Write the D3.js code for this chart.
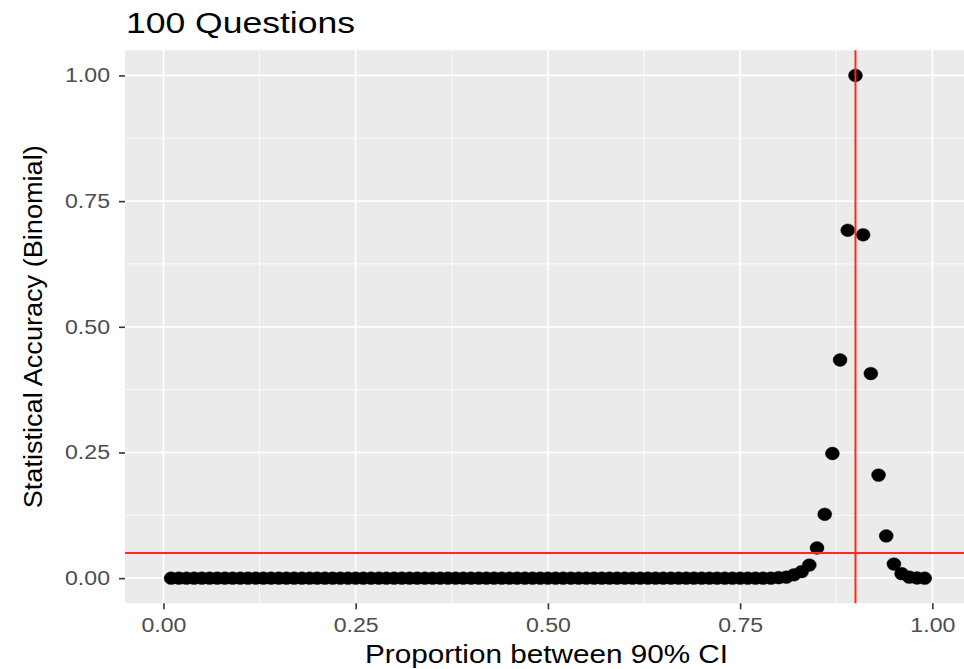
<!DOCTYPE html>
<html>
<head>
<meta charset="utf-8">
<script src="https://cdn.jsdelivr.net/npm/d3@7"></script>
<style>
  html, body { margin: 0; padding: 0; background: #ffffff; }
  svg { display: block; font-family: "Liberation Sans", Arial, Helvetica, sans-serif; }
</style>
</head>
<body>
<svg id="chart" width="964" height="669"></svg>
<script>
// ---- data ----
const proportions = [
  0.01,0.02,0.03,0.04,0.05,0.06,0.07,0.08,0.09,0.10,
  0.11,0.12,0.13,0.14,0.15,0.16,0.17,0.18,0.19,0.20,
  0.21,0.22,0.23,0.24,0.25,0.26,0.27,0.28,0.29,0.30,
  0.31,0.32,0.33,0.34,0.35,0.36,0.37,0.38,0.39,0.40,
  0.41,0.42,0.43,0.44,0.45,0.46,0.47,0.48,0.49,0.50,
  0.51,0.52,0.53,0.54,0.55,0.56,0.57,0.58,0.59,0.60,
  0.61,0.62,0.63,0.64,0.65,0.66,0.67,0.68,0.69,0.70,
  0.71,0.72,0.73,0.74,0.75,0.76,0.77,0.78,0.79,0.80,
  0.81,0.82,0.83,0.84,0.85,0.86,0.87,0.88,0.89,0.90,
  0.91,0.92,0.93,0.94,0.95,0.96,0.97,0.98,0.99
];
const accuracy = [
  0,0,0,0,0,0,0,0,0,0,
  0,0,0,0,0,0,0,0,0,0,
  0,0,0,0,0,0,0,0,0,0,
  0,0,0,0,0,0,0,0,0,0,
  0,0,0,0,0,0,0,0,0,0,
  0,0,0,0,0,0,0,0,0,0,
  0,0,0,0,0,0,0,0,0,0,
  0,0,0,0,0,0,0,0,0,0.001,
  0.002,0.0066,0.013,0.026,0.060,0.127,0.248,0.434,0.692,1.000,
  0.683,0.407,0.205,0.084,0.028,0.009,0.002,0.0003,0
];
const xTicks = [0, 0.25, 0.5, 0.75, 1.0];
const yTicks = [0, 0.25, 0.5, 0.75, 1.0];
const xMinor = [0.125, 0.375, 0.625, 0.875];
const yMinor = [0.125, 0.375, 0.625, 0.875];
const refX = 0.9;
const refY = 0.05;
const titleText = "100 Questions";
const xTitle = "Proportion between 90% CI";
const yTitle = "Statistical Accuracy (Binomial)";

// ---- layout ----
const panel = { left: 125, right: 970.8, top: 50.3, bottom: 603.3 };
const svg = d3.select("#chart");

const x = d3.scaleLinear().domain([-0.05, 1.05]).range([panel.left, panel.right]);
const y = d3.scaleLinear().domain([-0.05, 1.05]).range([panel.bottom, panel.top]);

// panel background
svg.append("rect")
  .attr("x", panel.left).attr("y", panel.top)
  .attr("width", panel.right - panel.left).attr("height", panel.bottom - panel.top)
  .attr("fill", "#EBEBEB");

const grid = svg.append("g");
// minor grid
grid.selectAll(".xminor").data(xMinor).join("line")
  .attr("class", "xminor")
  .attr("x1", d => x(d)).attr("x2", d => x(d))
  .attr("y1", panel.top).attr("y2", panel.bottom)
  .attr("stroke", "#ffffff").attr("stroke-width", 0.8);
grid.selectAll(".yminor").data(yMinor).join("line")
  .attr("class", "yminor")
  .attr("y1", d => y(d)).attr("y2", d => y(d))
  .attr("x1", panel.left).attr("x2", panel.right)
  .attr("stroke", "#ffffff").attr("stroke-width", 0.8);
// major grid
grid.selectAll(".xmajor").data(xTicks).join("line")
  .attr("class", "xmajor")
  .attr("x1", d => x(d)).attr("x2", d => x(d))
  .attr("y1", panel.top).attr("y2", panel.bottom)
  .attr("stroke", "#ffffff").attr("stroke-width", 1.7);
grid.selectAll(".ymajor").data(yTicks).join("line")
  .attr("class", "ymajor")
  .attr("y1", d => y(d)).attr("y2", d => y(d))
  .attr("x1", panel.left).attr("x2", panel.right)
  .attr("stroke", "#ffffff").attr("stroke-width", 1.7);

// points
const data = proportions.map((p, i) => ({ p, a: accuracy[i] }));
svg.append("g").selectAll("ellipse").data(data).join("ellipse")
  .attr("cx", d => x(d.p)).attr("cy", d => y(d.a))
  .attr("rx", 7).attr("ry", 6.4)
  .attr("fill", "#000000")
  .attr("stroke", "#000000").attr("stroke-width", 0.4);

// reference lines
svg.append("line")
  .attr("x1", x(refX)).attr("x2", x(refX))
  .attr("y1", panel.top).attr("y2", panel.bottom)
  .attr("stroke", "#FF2A1A").attr("stroke-width", 2);
svg.append("line")
  .attr("x1", panel.left).attr("x2", panel.right)
  .attr("y1", y(refY)).attr("y2", y(refY))
  .attr("stroke", "#FF2A1A").attr("stroke-width", 2);

// axes
const fmt = d3.format(".2f");
const xAxis = svg.append("g")
  .attr("transform", `translate(0,${panel.bottom})`)
  .call(d3.axisBottom(x).tickValues(xTicks).tickFormat(fmt).tickSize(6).tickPadding(8.3));
const yAxis = svg.append("g")
  .attr("transform", `translate(${panel.left},0)`)
  .call(d3.axisLeft(y).tickValues(yTicks).tickFormat(fmt).tickSize(6).tickPadding(9));

[xAxis, yAxis].forEach(ax => {
  ax.select(".domain").remove();
  ax.selectAll(".tick line").attr("stroke", "#333333").attr("stroke-width", 1.6);
  ax.selectAll(".tick text")
    .attr("fill", "#4D4D4D")
    .style("font-size", "20px")
    .style("font-family", '"Liberation Sans", Arial, sans-serif')
    .attr("textLength", 45)
    .attr("lengthAdjust", "spacingAndGlyphs");
});

// title
svg.append("text")
  .attr("x", 126).attr("y", 33)
  .attr("fill", "#000000")
  .style("font-size", "29px")
  .attr("textLength", 229).attr("lengthAdjust", "spacingAndGlyphs")
  .text(titleText);

// x-axis title
svg.append("text")
  .attr("x", (365 + 728) / 2).attr("y", 663)
  .attr("text-anchor", "middle")
  .attr("fill", "#000000")
  .style("font-size", "26px")
  .attr("textLength", 363).attr("lengthAdjust", "spacingAndGlyphs")
  .text(xTitle);

// y-axis title
svg.append("text")
  .attr("transform", `translate(42,${(panel.top + panel.bottom) / 2}) rotate(-90)`)
  .attr("text-anchor", "middle")
  .attr("fill", "#000000")
  .style("font-size", "25px")
  .attr("textLength", 363).attr("lengthAdjust", "spacingAndGlyphs")
  .text(yTitle);
</script>
</body>
</html>
